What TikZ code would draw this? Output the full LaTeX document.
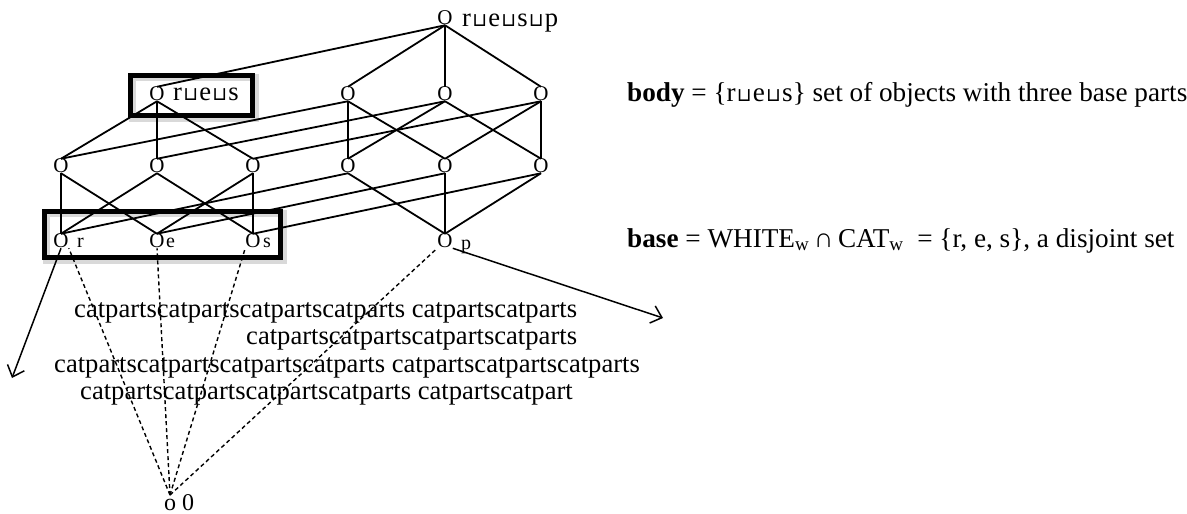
\documentclass[tikz,border=0pt]{standalone}
\usepackage{fontspec}
\setmainfont{Liberation Serif}
\newfontfamily\djv{DejaVu Sans}
\usetikzlibrary{arrows.meta}
\newcommand\sqc{\kern1.2pt{\djv\fontsize{19}{19}\selectfont ⊔}\kern1.2pt}
\begin{document}
\begin{tikzpicture}[x=1pt,y=-1pt,
  dot/.style={inner sep=0pt, font=\fontsize{21}{21}\selectfont},
  edge/.style={line width=1.8pt},
  dashz/.style={dash pattern=on 4pt off 3pt, line width=1.4pt},
  lab/.style={inner sep=0pt, anchor=base west, font=\fontsize{20}{20}\selectfont},
  big/.style={inner sep=0pt, anchor=base west, font=\fontsize{26.6}{27.5}\selectfont},
  side/.style={inner sep=0pt, anchor=base west, font=\fontsize{27.2}{28}\selectfont},
  frame/.style={line width=5pt},
  shade/.style={line width=7pt, black, opacity=0.15},
  arr/.style={line width=1.5pt, -{Straight Barb[length=10pt,width=18pt,line width=1.5pt]}}
]
\useasboundingbox (0,0) rectangle (1187,514);
% lattice nodes
\node[dot] (T) at (445,18) {O};
\node[dot] (res) at (157,94) {O};
\node[dot] (rep) at (348,94) {O};
\node[dot] (rsp) at (445,94) {O};
\node[dot] (esp) at (541,94) {O};
\node[dot] (re) at (61,166) {O};
\node[dot] (rs) at (157,166) {O};
\node[dot] (es) at (253,166) {O};
\node[dot] (rp) at (348,166) {O};
\node[dot] (ep) at (445,166) {O};
\node[dot] (sp) at (541,166) {O};
\node[dot] (r) at (61,241) {O};
\node[dot] (e) at (157,241) {O};
\node[dot] (s) at (253,241) {O};
\node[dot] (p) at (445,241) {O};
% edges
\foreach \a/\b in {res/T,rep/T,rsp/T,esp/T,
  re/res,rs/res,es/res, re/rep,rp/rep,ep/rep, rs/rsp,rp/rsp,sp/rsp, es/esp,ep/esp,sp/esp,
  r/re,e/re, r/rs,s/rs, e/es,s/es, r/rp,p/rp, e/ep,p/ep, s/sp,p/sp}
  \draw[edge] (\a.north) -- (\b.south);
% frames
\draw[shade] (132,77) rectangle (255,118);
\draw[frame] (130,75) rectangle (252,115);
\draw[shade] (46,213) rectangle (283,260);
\draw[frame] (44,211) rectangle (280,257);
% labels
\node[big] (lT) at (462,26) {r\sqc e\sqc s\sqc p};
\node[big] (lres) at (173,100) {r\sqc e\sqc s};
\node[lab] (lr) at (77,247) {r};
\node[lab] (le) at (166,247) {e};
\node[lab] (ls) at (263,247) {s};
\node[lab] (lp) at (461,249) {p};
% zero
\node[inner sep=0pt, anchor=base west, font=\fontsize{24}{24}\selectfont] (zl) at (164,510) {o 0};
\coordinate (Z) at (170,495);
\draw[dashz] (Z) -- (r.south east);
\draw[dashz] (Z) -- (e.south);
\draw[dashz] (Z) -- (s.south west);
\draw[dashz] (Z) -- (p.south west);
% arrows
\coordinate (ra) at (12,378);
\coordinate (pa) at (663,318);
\draw[arr] (r.south) -- (ra);
\draw[arr] (p.south east) -- (pa);
% texts
\node[side] (body) at (627,101) {\textbf{body} = \{r\sqc e\sqc s\} set of objects with three base parts};
\node[side] (base) at (627,247) {\textbf{base} = WHITE\textsubscript{w}\,∩\,CAT\textsubscript{w}\ \ = \{r, e, s\}, a disjoint set};
\node[big] (c1) at (74,317) {catpartscatpartscatpartscatparts catpartscatparts};
\node[big] (c2) at (246,344) {catpartscatpartscatpartscatparts};
\node[big] (c3) at (54,372) {catpartscatpartscatpartscatparts catpartscatpartscatparts};
\node[big] (c4) at (80,399) {catpartscatpartscatpartscatparts catpartscatpart};
\end{tikzpicture}
\end{document}
